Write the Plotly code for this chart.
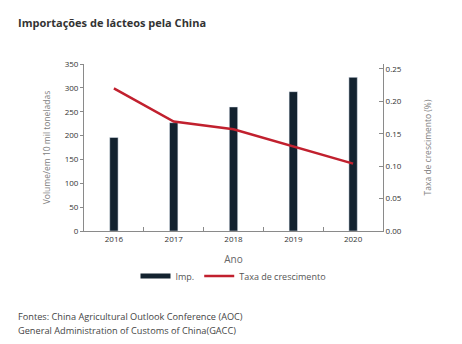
import plotly.graph_objects as go

years = ["2016", "2017", "2018", "2019", "2020"]
imports = [196, 227, 260, 292, 322]
growth = [0.220, 0.169, 0.157, 0.131, 0.104]

BAR = "#13222f"
LINE = "#c1202e"
AX = "#8a8a8a"
FONT = "Open Sans"

fig = go.Figure()
fig.add_trace(go.Bar(x=years, y=imports, name="Imp.", marker_color=BAR,
                     width=0.14, showlegend=False, yaxis="y"))
fig.add_trace(go.Scatter(x=years, y=growth, name="Taxa de crescimento",
                         mode="lines", line=dict(color=LINE, width=2.5),
                         yaxis="y2", showlegend=False))
# legend proxies
fig.add_trace(go.Scatter(x=[None], y=[None], name="Imp.", mode="lines",
                         line=dict(color=BAR, width=5)))
fig.add_trace(go.Scatter(x=[None], y=[None], name="Taxa de crescimento",
                         mode="lines", line=dict(color=LINE, width=2.5)))

fig.update_layout(
    width=462, height=344,
    margin=dict(l=84, r=79, t=64, b=113),
    paper_bgcolor="white", plot_bgcolor="white",
    font=dict(family=FONT, size=8, color="#333333"),
    showlegend=True,
    legend=dict(orientation="h", x=0.5, xanchor="center", y=-0.27, yanchor="middle",
                font=dict(size=9, color="#555555"), itemwidth=30,
                bgcolor="rgba(0,0,0,0)", tracegroupgap=0),
    xaxis=dict(type="category", showline=True, linecolor=AX, linewidth=1,
               ticks="inside", tickson="boundaries", ticklen=4, tickcolor=AX,
               showgrid=False, range=[-0.5, 4.5],
               title=dict(text="Ano", font=dict(size=10, color="#666666"), standoff=13),
               tickfont=dict(size=8, color="#333333")),
    yaxis=dict(range=[0, 350], dtick=50, showline=True, linecolor=AX, linewidth=1,
               ticks="outside", ticklen=3, tickcolor=AX, showgrid=False, zeroline=False,
               title=dict(text="Volume/em 10 mil toneladas",
                          font=dict(size=8.5, color="#808080"), standoff=12),
               tickfont=dict(size=8, color="#333333")),
    yaxis2=dict(range=[0, 0.2577], dtick=0.05, tickformat=".2f", overlaying="y",
                side="right", showline=True, linecolor=AX, linewidth=1,
                ticks="inside", ticklen=4, tickcolor=AX, showgrid=False, zeroline=False,
                title=dict(text="Taxa de crescimento (%)",
                           font=dict(size=8.5, color="#808080"), standoff=24),
                tickfont=dict(size=8, color="#333333")),
    annotations=[
        dict(text="<b>Importações de lácteos pela China</b>", xref="paper", yref="paper",
             x=-68/299, y=1 + 42/167, xanchor="left", yanchor="middle", showarrow=False,
             font=dict(size=11, color="#333333", family=FONT)),
        dict(text="Fontes: China Agricultural Outlook Conference (AOC)",
             xref="paper", yref="paper", x=-68/299, y=-85/167,
             xanchor="left", yanchor="middle", showarrow=False,
             font=dict(size=9.2, color="#444444", family=FONT)),
        dict(text="General Administration of Customs of China(GACC)",
             xref="paper", yref="paper", x=-68/299, y=-99/167,
             xanchor="left", yanchor="middle", showarrow=False,
             font=dict(size=9.2, color="#444444", family=FONT)),
    ],
)

fig.write_html("out.html")
